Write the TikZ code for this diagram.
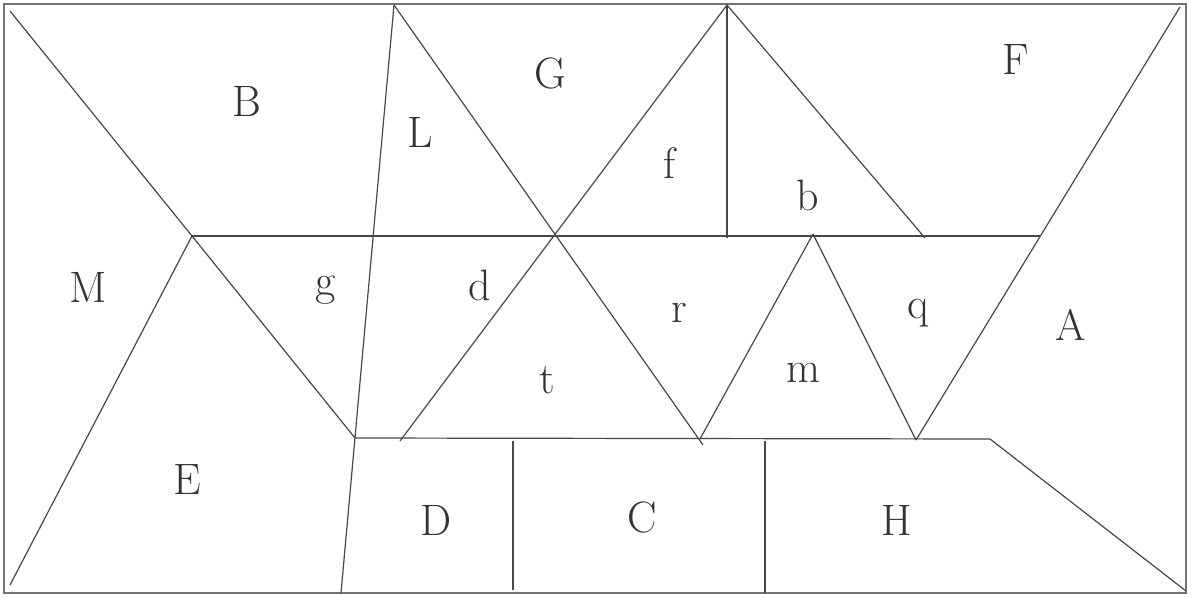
\documentclass[tikz,border=0pt]{standalone}
\begin{document}
\begin{tikzpicture}[x=1pt,y=-1pt,
  seg/.style={draw=black!72,line width=1.2pt},
  frame/.style={draw=black!55,line width=2pt},
  lbl/.style={text=black!80,font=\fontsize{44}{50}\selectfont,inner sep=0pt}]
\useasboundingbox (0,0) rectangle (1194,597);
% vertices
\coordinate (TL) at (4,4);
\coordinate (BR) at (1186,593);
\coordinate (P1) at (10,11);
\coordinate (P2) at (192,236);
\coordinate (P3) at (10,585);
\coordinate (P4) at (355,438);
\coordinate (L1) at (394,5);
\coordinate (L2) at (341,593);
\coordinate (H1) at (1040,236);
\coordinate (H2) at (990,439);
\coordinate (P7) at (1186,591);
\coordinate (G1) at (727,5);
\coordinate (V1) at (727,238);
\coordinate (Bb) at (925,238);
\coordinate (F1) at (1180,7);
\coordinate (Q) at (916,440);
\coordinate (T1) at (400,441);
\coordinate (T2) at (703,445);
\coordinate (Mt) at (813,234);
\coordinate (Ml) at (700,439);
\coordinate (D1) at (513,441);
\coordinate (D2) at (513,590);
\coordinate (C1) at (765,441);
\coordinate (C2) at (765,593);
% frame
\draw[frame] (TL) rectangle (BR);
% segments
\draw[seg] (P1) -- (P2);
\draw[seg] (P2) -- (H1);
\draw[seg] (P2) -- (P3);
\draw[seg] (P2) -- (P4);
\draw[seg] (L1) -- (L2);
\draw[seg] (P4) -- (H2);
\draw[seg] (H2) -- (P7);
\draw[seg] (L1) -- (T2);
\draw[seg] (G1) -- (T1);
\draw[seg] (G1) -- (V1);
\draw[seg] (G1) -- (Bb);
\draw[seg] (F1) -- (Q);
\draw[seg] (Ml) -- (Mt);
\draw[seg] (Mt) -- (Q);
\draw[seg] (D1) -- (D2);
\draw[seg] (C1) -- (C2);
% labels
\node[lbl] (nB) at (247,101) {B};
\node[lbl] (nL) at (420,132) {L};
\node[lbl] (nG) at (550,73) {G};
\node[lbl] (nf) at (670,163) {f};
\node[lbl] (nb) at (808,195) {b};
\node[lbl] (nF) at (1016,60) {F};
\node[lbl] (nM) at (88,287) {M};
\node[lbl] (ng) at (326,290) {g};
\node[lbl] (nd) at (480,285) {d};
\node[lbl] (nr) at (679,313) {r};
\node[lbl] (nq) at (918,313) {q};
\node[lbl] (nA) at (1071,325) {A};
\node[lbl] (nt) at (547,380) {t};
\node[lbl] (nm) at (803,373) {m};
\node[lbl] (nE) at (187,480) {E};
\node[lbl] (nD) at (436,520) {D};
\node[lbl] (nC) at (642,517) {C};
\node[lbl] (nH) at (897,520) {H};
\end{tikzpicture}
\end{document}
